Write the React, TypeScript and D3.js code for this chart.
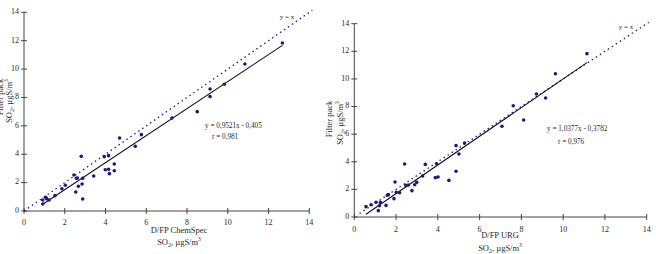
import React from "react";
import * as d3 from "d3";

// D/FP ChemSpec vs filter pack SO2 (µgS/m3)
const chemSpecX = [0.92, 0.92, 1.06, 1.11, 1.23, 1.52, 1.86, 2.03, 2.45, 2.54, 2.57, 2.62, 2.67, 2.81, 2.85, 2.88, 2.88, 3.42, 3.94, 3.99, 4.15, 4.15, 4.19, 4.43, 4.43, 4.69, 5.46, 5.76, 7.26, 8.5, 9.13, 9.13, 9.83, 10.84, 12.68];
const chemSpecY = [0.49, 0.78, 0.96, 0.87, 0.78, 1.08, 1.57, 1.81, 2.54, 1.34, 2.3, 2.33, 1.74, 3.85, 1.9, 2.3, 0.85, 2.47, 3.83, 2.91, 3.9, 2.94, 2.63, 3.31, 2.84, 5.14, 4.56, 5.38, 6.55, 7.0, 8.6, 8.06, 8.93, 10.36, 11.84];

// D/FP URG vs filter pack SO2 (µgS/m3)
const urgX = [0.56, 0.8, 1.04, 1.15, 1.2, 1.25, 1.52, 1.58, 1.63, 1.9, 1.95, 2.01, 2.17, 2.41, 2.47, 2.59, 2.76, 2.89, 2.99, 3.27, 3.4, 3.88, 3.94, 4.01, 4.53, 4.87, 4.87, 5.01, 5.28, 7.07, 7.61, 8.11, 8.72, 9.16, 9.63, 11.14];
const urgY = [0.75, 0.89, 1.06, 0.46, 0.82, 1.06, 0.84, 1.57, 1.62, 1.33, 2.53, 1.79, 1.76, 3.84, 2.29, 2.32, 1.91, 2.34, 2.51, 2.97, 3.81, 2.85, 3.86, 2.9, 2.65, 5.17, 3.31, 4.56, 5.36, 6.57, 8.06, 7.02, 8.91, 8.62, 10.38, 11.83];

const ticks = [0, 2, 4, 6, 8, 10, 12, 14];

const SERIF = "'Liberation Serif', 'DejaVu Serif', serif";
const NAVY = "#1a1a80";

type PanelProps = {
  xs: number[];
  ys: number[];
  slope: number;
  intercept: number;
  fitRange: [number, number];
  identityRange: [number, number];
  eqText: string;
  rText: string;
  xTitle: string;
  box: { x0: number; x1: number; y0: number; y1: number };
  eqPos: [number, number];
  rPos: [number, number];
  idLabelPos: [number, number];
  tickLabelY: number;
  xTitleX: number;
  xTitleY: number;
  xSubY: number;
  yTitleX1: number;
  yTitleX2: number;
  yTitleCy: number;
};

const Unit = () => (
  <>
    SO<tspan baselineShift="sub" fontSize="6">2</tspan>
    <tspan>, µgS/m</tspan>
    <tspan baselineShift="super" fontSize="5.5">3</tspan>
  </>
);

function Panel(p: PanelProps) {
  const x = d3.scaleLinear().domain([0, 14]).range([p.box.x0, p.box.x1]);
  const y = d3.scaleLinear().domain([0, 14]).range([p.box.y0, p.box.y1]);
  const fit = d3
    .line<number>()
    .x((v) => x(v))
    .y((v) => y(p.slope * v + p.intercept));
  const ident = d3
    .line<number>()
    .x((v) => x(v))
    .y((v) => y(v));
  return (
    <g fontFamily={SERIF} fill="#2a2a2a">
      {/* axes */}
      <line x1={x(0)} x2={x(14)} y1={y(0)} y2={y(0)} stroke="#444" strokeWidth={1} />
      <line x1={x(0)} x2={x(0)} y1={y(0)} y2={y(14)} stroke="#444" strokeWidth={1} />
      {ticks.map((t) => (
        <g key={"x" + t}>
          <line x1={x(t)} x2={x(t)} y1={y(0) - 3} y2={y(0) + 3} stroke="#444" />
          <text x={x(t)} y={p.tickLabelY} fontSize={8} textAnchor="middle" dominantBaseline="middle">
            {t}
          </text>
        </g>
      ))}
      {ticks.map((t) => (
        <g key={"y" + t}>
          <line x1={x(0) - 3} x2={x(0) + 3} y1={y(t)} y2={y(t)} stroke="#444" />
          <text x={x(0) - 5} y={y(t)} fontSize={8} textAnchor="end" dominantBaseline="middle">
            {t}
          </text>
        </g>
      ))}
      {/* y = x reference */}
      <path
        d={ident(p.identityRange) ?? ""}
        fill="none"
        stroke={NAVY}
        strokeWidth={1.3}
        strokeDasharray="1.5 3.3"
      />
      {/* regression fit */}
      <path d={fit(p.fitRange) ?? ""} fill="none" stroke="#111" strokeWidth={1.1} />
      {p.xs.map((v, i) => (
        <circle key={i} cx={x(v)} cy={y(p.ys[i])} r={1.8} fill={NAVY} />
      ))}
      <text x={p.idLabelPos[0]} y={p.idLabelPos[1]} fontSize={7} textAnchor="middle" dominantBaseline="middle">
        y = x
      </text>
      <text x={p.eqPos[0]} y={p.eqPos[1]} fontSize={7.2} dominantBaseline="middle">
        {p.eqText}
      </text>
      <text x={p.rPos[0]} y={p.rPos[1]} fontSize={7.2} dominantBaseline="middle">
        {p.rText}
      </text>
      <text x={p.xTitleX} y={p.xTitleY} fontSize={8.5} textAnchor="middle" dominantBaseline="middle">
        {p.xTitle}
      </text>
      <text x={p.xTitleX} y={p.xSubY} fontSize={8.5} textAnchor="middle" dominantBaseline="middle">
        <Unit />
      </text>
      <text
        transform={`translate(${p.yTitleX1},${p.yTitleCy}) rotate(-90)`}
        fontSize={8.5}
        textAnchor="middle"
        dominantBaseline="middle"
      >
        Filter pack
      </text>
      <text
        transform={`translate(${p.yTitleX2},${p.yTitleCy + 4}) rotate(-90)`}
        fontSize={8.5}
        textAnchor="middle"
        dominantBaseline="middle"
      >
        <Unit />
      </text>
    </g>
  );
}

export default function App() {
  return (
    <svg
      width={656}
      height={254}
      style={{ position: "absolute", left: 0, top: 0, background: "#fff" }}
    >
      <rect width={656} height={254} fill="#fff" />
      <Panel
        xs={chemSpecX}
        ys={chemSpecY}
        slope={0.9521}
        intercept={-0.405}
        fitRange={[0.92, 12.68]}
        identityRange={[0, 14.15]}
        eqText="y = 0,9521x - 0,405"
        rText="r = 0,981"
        xTitle="D/FP ChemSpec"
        box={{ x0: 24, x1: 309.3, y0: 211, y1: 12.3 }}
        eqPos={[205, 126]}
        rPos={[212, 137]}
        idLabelPos={[287, 17]}
        tickLabelY={223}
        xTitleX={179}
        xTitleY={231}
        xSubY={243}
        yTitleX1={1}
        yTitleX2={10}
        yTitleCy={97}
      />
      <Panel
        xs={urgX}
        ys={urgY}
        slope={1.0377}
        intercept={-0.3782}
        fitRange={[0.56, 11.14]}
        identityRange={[0.25, 14.1]}
        eqText="y = 1,0377x - 0,3782"
        rText="r = 0,976"
        xTitle="D/FP URG"
        box={{ x0: 354.3, x1: 646.7, y0: 217, y1: 23.7 }}
        eqPos={[547, 129]}
        rPos={[558, 142]}
        idLabelPos={[626, 27]}
        tickLabelY={230}
        xTitleX={500}
        xTitleY={236}
        xSubY={249}
        yTitleX1={330}
        yTitleX2={341}
        yTitleCy={119}
      />
    </svg>
  );
}
